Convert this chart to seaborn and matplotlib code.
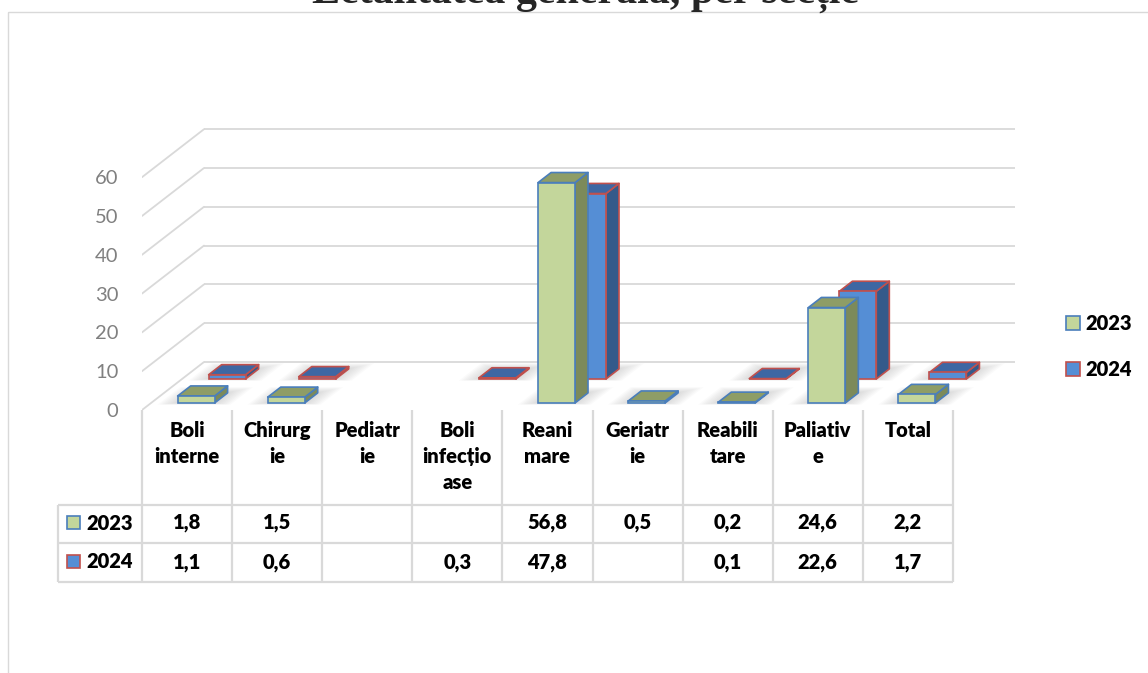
import numpy as np
import pandas as pd
import matplotlib
matplotlib.use("Agg")
import matplotlib.pyplot as plt
import matplotlib.transforms as mtransforms
from matplotlib.patches import Polygon, Rectangle
from matplotlib.lines import Line2D
import seaborn as sns

# data
categories = ["Boli interne", "Chirurgie", "Pediatrie", "Boli infecțioase", "Reanimare",
              "Geriatrie", "Reabilitare", "Paliative", "Total"]
header_labels = ["Boli\ninterne", "Chirurg\nie", "Pediatr\nie", "Boli\ninfecțio\nase", "Reani\nmare",
                 "Geriatr\nie", "Reabili\ntare", "Paliativ\ne", "Total"]
years = ["2023", "2024"]
values_2023 = [1.8, 1.5, np.nan, np.nan, 56.8, 0.5, 0.2, 24.6, 2.2]
values_2024 = [1.1, 0.6, np.nan, 0.3, 47.8, np.nan, 0.1, 22.6, 1.7]
yticks = [0, 10, 20, 30, 40, 50, 60]
title_text = "Letalitatea generală, per secție"

W, H = 1148, 673
sns.set_theme(style="white")
plt.rcParams['font.family'] = ['Lato', 'DejaVu Sans']

fig = plt.figure(figsize=(W / 100, H / 100), dpi=100)
pix = mtransforms.Affine2D().scale(1 / W, -1 / H).translate(0, 1) + fig.transFigure

# plot area: x=-0.5 at 142px, 90.1 px per category; y=0 at 410px, 3.88 px per unit
ax = fig.add_axes([142 / W, 1 - 410 / H, 874 / W, 291 / H])
DX, DY = 62 / 90.1, 48 / 3.88   # depth direction of the oblique projection, data units
BW = 0.41                        # bar width
BD = 0.21                        # bar depth (fraction of floor depth)

wall = "#d9d9d9"
front_col = {"2023": "#c3d69b", "2024": "#558ed5"}
top_col = {"2023": "#8e9d66", "2024": "#3e67a3"}
side_col = {"2023": "#7c8a5a", "2024": "#345a8a"}
edge_col = {"2023": "#4a7ebb", "2024": "#c0504d"}
row_depth = {"2023": 0.146, "2024": 0.646}


def proj(x, v, d):
    return (x + d * DX, v + d * DY)


# back wall + side wall grid
for v in yticks:
    ax.plot([-0.5 + DX, 8.5 + DX], [v + DY, v + DY], color=wall, lw=1.3, zorder=1, solid_capstyle="butt")
    ax.plot([-0.5, -0.5 + DX], [v, v + DY], color=wall, lw=1.3, zorder=1)

# draw back row first, then front row
for yr, vals, zb in [("2024", values_2024, 3), ("2023", values_2023, 6)]:
    d0 = row_depth[yr]
    # soft floor shadows (stacked translucent footprints)
    for i, v in enumerate(vals):
        if np.isnan(v):
            continue
        for k in range(8):
            e = 0.025 * (k + 1)
            ed = 0.015 * (k + 1)
            pts = [proj(i - BW / 2 - e, 0, d0 - ed * 0.3), proj(i + BW / 2 + e, 0, d0 - ed * 0.3),
                   proj(i + BW / 2 + e, 0, d0 + BD + ed), proj(i - BW / 2 - e, 0, d0 + BD + ed)]
            ax.add_patch(Polygon(pts, closed=True, facecolor="#808080", edgecolor="none",
                                 alpha=0.035, zorder=zb - 1))

    df = pd.DataFrame({"section": categories, "value": vals})
    n_before = len(ax.patches)
    sns.barplot(data=df, x="section", y="value", order=categories, width=BW,
                color=front_col[yr], saturation=1, edgecolor=edge_col[yr], linewidth=1.2,
                errorbar=None, ax=ax)
    shift = mtransforms.Affine2D().translate(d0 * DX, d0 * DY) + ax.transData
    for p in ax.patches[n_before:]:
        p.set_transform(shift)
        p.set_zorder(zb + 1)
        p.set_facecolor(front_col[yr])
        p.set_clip_on(False)

    # top and side faces
    for i, v in enumerate(vals):
        if np.isnan(v):
            continue
        xl, xr = i - BW / 2, i + BW / 2
        top = [proj(xl, v, d0), proj(xr, v, d0), proj(xr, v, d0 + BD), proj(xl, v, d0 + BD)]
        side = [proj(xr, 0, d0), proj(xr, 0, d0 + BD), proj(xr, v, d0 + BD), proj(xr, v, d0)]
        ax.add_patch(Polygon(side, closed=True, facecolor=side_col[yr], edgecolor=edge_col[yr],
                             lw=1.2, joinstyle="round", zorder=zb, clip_on=False))
        ax.add_patch(Polygon(top, closed=True, facecolor=top_col[yr], edgecolor=edge_col[yr],
                             lw=1.2, joinstyle="round", zorder=zb, clip_on=False))

ax.set_xlim(-0.5, 9.2)
ax.set_ylim(0, 75)
ax.set_xticks([])
ax.set_yticks(yticks)
ax.set_yticklabels([str(t) for t in yticks], color="#808080", fontsize=14.5)
ax.tick_params(axis="y", length=0, pad=17)
ax.set_xlabel("")
ax.set_ylabel("")
for s in ax.spines.values():
    s.set_visible(False)
ax.patch.set_alpha(0)

# data table under the plot
tx = mtransforms.blended_transform_factory(ax.transData, pix)
grid_kw = dict(color=wall, lw=1.6, solid_capstyle="butt")
for j in range(len(categories) + 1):
    fig.add_artist(Line2D([j - 0.5, j - 0.5], [410, 582], transform=tx, **grid_kw))
for yy in [505, 543, 582]:
    fig.add_artist(Line2D([58, 953], [yy, yy], transform=pix, **grid_kw))
fig.add_artist(Line2D([58, 58], [505, 582], transform=pix, **grid_kw))

for j, lab in enumerate(header_labels):
    fig.text(j, 421, lab, transform=tx, ha="center", va="top", fontsize=14.5,
             fontweight="heavy", color="black", linespacing=1.43)

for yr, vals, yy in [("2023", values_2023, 523), ("2024", values_2024, 562)]:
    fig.add_artist(Rectangle((67, yy - 7), 13, 13, transform=pix, facecolor=front_col[yr],
                             edgecolor=edge_col[yr], lw=1.2))
    fig.text(86, yy, yr, transform=pix, ha="left", va="center", fontsize=14.5,
             fontweight="heavy", color="black")
    for j, v in enumerate(vals):
        if np.isnan(v):
            continue
        fig.text(j, yy, f"{v:.1f}".replace(".", ","), transform=tx, ha="center", va="center",
                 fontsize=14.5, fontweight="heavy", color="black")

# legend on the right
for yr, yy in [("2023", 323), ("2024", 369)]:
    fig.add_artist(Rectangle((1066, yy - 7), 14, 14, transform=pix, facecolor=front_col[yr],
                             edgecolor=edge_col[yr], lw=1.2))
    fig.text(1085, yy, yr, transform=pix, ha="left", va="center", fontsize=14.5,
             fontweight="heavy", color="black")

# chart frame (runs off the bottom/right of the image)
fig.add_artist(Rectangle((8, 12), 1200, 700, transform=pix, facecolor="none", edgecolor=wall, lw=1))

# title, mostly cut off at the top (as in the source image)
title = fig.text(585, 3, title_text, transform=pix, ha="center", va="baseline",
                 family="Liberation Serif", fontweight="bold", fontsize=26)
fig.canvas.draw()
w = title.get_window_extent().width
title.set_fontsize(26 * 549 / w)

fig.savefig("out.png", dpi=100)
